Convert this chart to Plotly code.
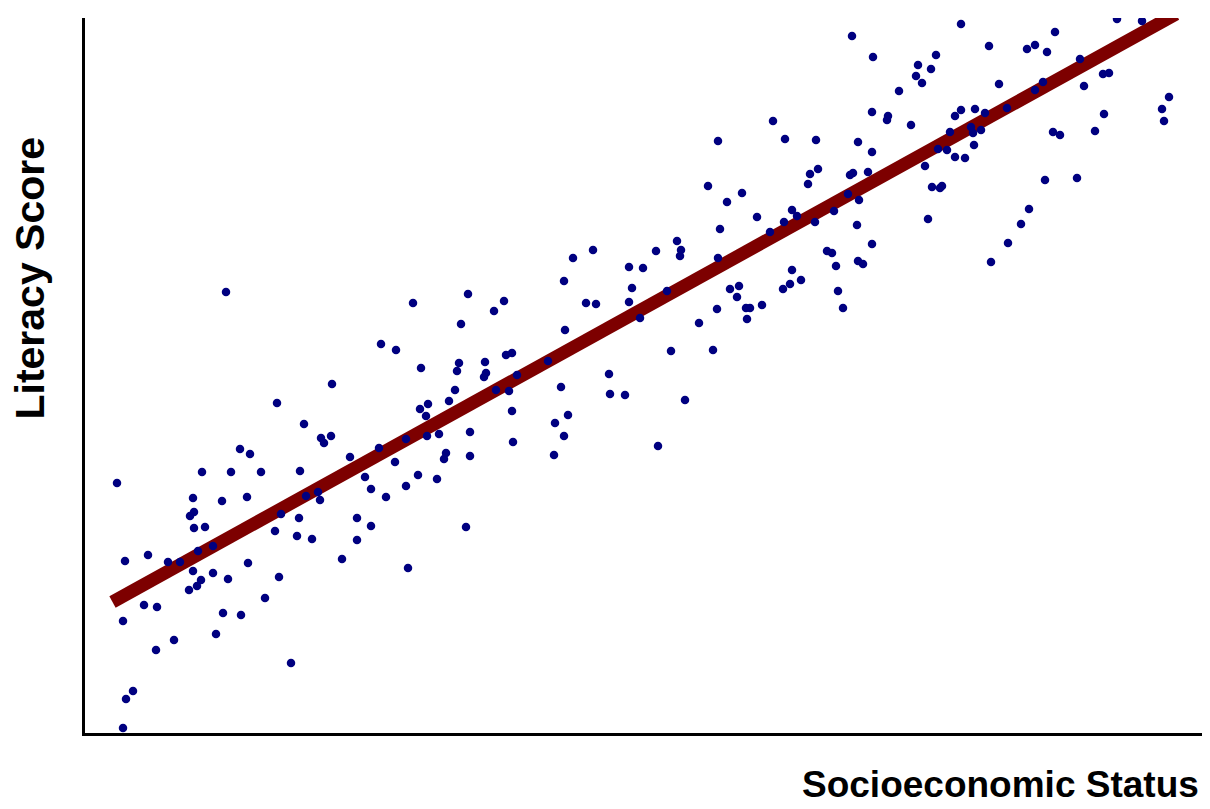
import plotly.graph_objects as go

# Socioeconomic status (index units) and literacy score (index units)
ses = [
    141, 192, 155, 165, 117, 146, 176, 32, 108, 137, 162,
    109, 105, 109, 120, 196, 190, 40, 63, 83, 95, 113, 128, 108, 128, 116, 143, 163, 194,
    112, 104, 180, 59, 72, 38, 138, 156, 131, 89, 71, 48, 41, 38, 206,
    383, 328, 376, 296, 311, 336, 374, 372, 400, 401, 399, 247, 370, 364, 343, 335, 341,
    219, 236, 239, 246, 321, 342, 354, 385, 294, 265, 361, 359, 385, 215, 310, 280, 333,
    352, 286, 321, 221, 233, 235, 301,
    214, 272, 286, 381, 212, 227, 272, 257, 323,
    592, 596, 595, 571, 508, 488, 544, 558, 479, 547, 582, 419, 409, 501, 511, 544, 555,
    480, 421, 427, 432, 463, 411, 424, 524, 525, 540, 476, 427, 483, 470, 479, 428, 469,
    573, 586, 600,
    787, 688, 633, 700, 731, 773, 787, 725, 733, 723, 765, 768, 783, 623, 657, 642, 763,
    774, 707, 712, 749, 672, 699, 730, 772, 635, 685, 787, 633, 742, 747, 751, 773, 778,
    707, 716, 705, 698, 645, 654, 652, 753, 677, 661, 665, 662, 632, 758, 614, 628, 767, 788,
    876, 970, 904, 942, 950, 962, 851, 833, 846, 831, 837, 814, 914, 958, 950, 995, 999,
    803, 802, 826, 876, 870, 890, 900, 922, 865, 886, 888, 896, 889, 853, 862, 870, 880,
    968, 975, 840, 847, 855, 857, 960, 992, 843, 944, 936, 923, 906,
    1032, 1057, 1018, 1024, 1084, 1077, 1079, 1019, 1010,
]
literacy = [
    441, 330, 284, 279, 261, 261, 261, 250, 235, 232, 236,
    221, 217, 205, 206, 219, 202, 172, 178, 171, 171, 182, 187, 162, 160, 153, 154, 170, 156,
    147, 143, 135, 128, 126, 112, 120, 118, 99, 93, 83, 42, 34, 5, 70,
    439, 430, 409, 389, 383, 365, 370, 362, 371, 360, 356, 349, 343, 332, 329, 324, 317,
    309, 295, 290, 297, 294, 297, 299, 301, 285, 276, 280, 274, 277, 262, 271, 256, 258,
    254, 244, 247, 237, 241, 233, 236,
    215, 215, 207, 206, 197, 194, 193, 174, 165,
    492, 483, 477, 482, 483, 475, 466, 465, 452, 445, 442, 432, 422, 430, 429, 431, 415,
    403, 378, 380, 358, 372, 343, 342, 359, 339, 338, 346, 322, 318, 310, 297, 291, 278,
    287, 382, 333,
    621, 612, 592, 594, 593, 591, 581, 559, 564, 549, 558, 560, 561, 547, 540, 531, 539,
    533, 523, 517, 522, 516, 511, 511, 508, 504, 501, 489, 475, 482, 480, 467, 472, 469,
    463, 453, 449, 444, 444, 447, 436, 442, 428, 425, 425, 414, 424, 425, 410, 383, 697, 676,
    709, 701, 687, 684, 688, 681, 678, 668, 664, 657, 650, 642, 649, 651, 643, 674, 647,
    617, 613, 608, 623, 617, 624, 620, 625, 601, 606, 600, 603, 588, 584, 583, 576, 575,
    601, 598, 567, 546, 545, 547, 553, 555, 514, 524, 509, 490, 471,
    714, 712, 659, 660, 636, 624, 612, 619, 602,
]

# Trend line endpoints
trend_ses = [27.5, 1091]
trend_lit = [131, 719]

fig = go.Figure()
fig.add_trace(go.Scatter(
    x=trend_ses, y=trend_lit, mode="lines",
    line=dict(color="#7d0000", width=13),
    hoverinfo="skip", showlegend=False,
))
fig.add_trace(go.Scatter(
    x=ses, y=literacy, mode="markers",
    marker=dict(color="#000080", size=8.5, line=dict(width=0)),
    showlegend=False,
))

fig.update_layout(
    width=1194, height=801,
    margin=dict(l=77, r=0, t=10, b=76),
    paper_bgcolor="white", plot_bgcolor="white",
    xaxis=dict(range=[0, 1117], showgrid=False, zeroline=False, showticklabels=False,
               ticks="", showline=True, linecolor="black", linewidth=3),
    yaxis=dict(range=[0, 715], showgrid=False, zeroline=False, showticklabels=False,
               ticks="", showline=True, linecolor="black", linewidth=3),
    font=dict(family="Liberation Sans, Arial, sans-serif", color="black"),
    annotations=[
        dict(text="<b>Socioeconomic Status</b>", xref="paper", yref="paper",
             x=0.999, y=-0.072, xanchor="right", yanchor="middle",
             showarrow=False, font=dict(size=37, color="black")),
        dict(text="<b>Literacy Score</b>", xref="paper", yref="paper",
             x=-0.049, y=0.636, xanchor="center", yanchor="middle", textangle=-90,
             showarrow=False, font=dict(size=41, color="black")),
    ],
)

fig.write_html("out.html")
